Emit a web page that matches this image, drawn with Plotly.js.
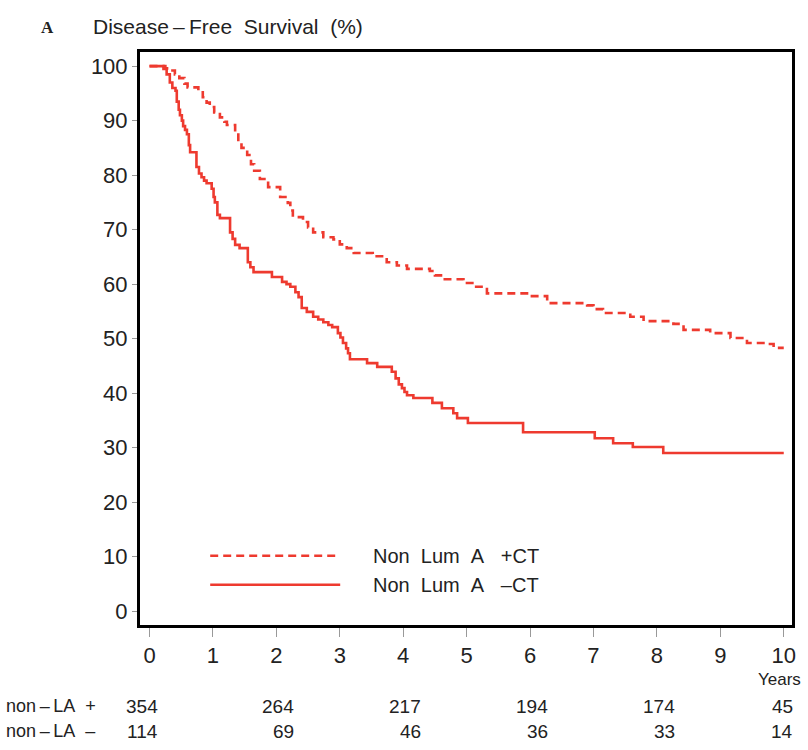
<!DOCTYPE html>
<html>
<head>
<meta charset="utf-8">
<script src="https://cdn.plot.ly/plotly-3.0.1.min.js"></script>
<style>html,body{margin:0;padding:0;background:#fff;}</style>
</head>
<body>
<div id="chart" style="width:808px;height:750px;"></div>
<script>
// Non Lum A +CT (dashed)
var plusT = [0,0.25,0.32,0.4,0.47,0.55,0.6,0.77,0.84,0.9,0.95,1.02,1.11,1.18,1.22,1.35,1.4,1.45,1.54,1.6,1.65,1.74,1.87,2.06,2.18,2.22,2.26,2.42,2.5,2.58,2.74,2.9,3.0,3.11,3.22,3.52,3.74,3.9,4.06,4.42,4.5,4.63,4.95,5.15,5.32,6.0,6.27,6.9,7.0,7.15,7.58,7.79,8.26,8.42,8.84,9.16,9.42,9.74,9.84,10.0];
var plusV = [100,99.6,99.2,98.5,97.8,96.8,96.1,95.5,94.3,93.3,92.5,91.5,90.6,89.8,89.2,87.7,86,85,83.7,82,80.8,79.3,77.8,76,74.9,73.5,72.3,71.4,70.4,69.5,68.6,68.2,67.3,66.6,65.7,65.1,64,63.4,62.8,62.4,61.6,60.9,60.2,59.5,58.3,57.8,56.5,56.1,55.4,54.7,54,53.2,52.7,51.6,51,50.1,49.2,49,48.3,48.3];
// Non Lum A -CT (solid)
var minusT = [0,0.22,0.27,0.32,0.36,0.41,0.43,0.46,0.48,0.51,0.53,0.56,0.59,0.62,0.64,0.74,0.78,0.82,0.86,0.9,0.98,1.01,1.03,1.07,1.11,1.27,1.31,1.35,1.42,1.55,1.59,1.64,1.93,2.09,2.16,2.22,2.3,2.35,2.4,2.48,2.58,2.66,2.74,2.82,2.88,2.97,3.01,3.05,3.1,3.13,3.16,3.43,3.59,3.82,3.88,3.93,3.98,4.02,4.06,4.16,4.46,4.61,4.79,4.85,5.02,5.89,7.02,7.31,7.62,8.1,10.0];
var minusV = [100,99.5,98.5,97,96,95.5,93.5,92,91,90,89,88.3,87.5,85.5,84.2,81.5,80.3,79.6,79,78.5,77.5,76,75,72.7,72.1,69.5,68.3,67.2,66.6,64,63.1,62.2,61.3,60.4,60,59.5,58.5,57.6,55.6,54.9,54,53.5,53,52.5,52.1,51,50.2,49.2,48.2,47.3,46.2,45.5,44.8,43.9,42.7,41.6,40.9,40.2,39.6,39.1,38.2,37.2,36.3,35.4,34.5,32.8,31.7,30.8,30.1,29.0,29.0];

var xTicks = [0,1,2,3,4,5,6,7,8,9,10];
var yTicks = [0,10,20,30,40,50,60,70,80,90,100];
var riskYears = [0,2,4,6,8,10];
var riskPlus = [354,264,217,194,174,45];
var riskMinus = [114,69,46,36,33,14];
var rowLabels = ["non\u2009\u2013\u2009LA\u00a0\u00a0+", "non\u2009\u2013\u2009LA\u00a0\u00a0\u2013"];
var seriesNames = ["Non\u00a0\u00a0Lum\u00a0\u00a0A\u00a0\u00a0\u00a0+CT", "Non\u00a0\u00a0Lum\u00a0\u00a0A\u00a0\u00a0\u00a0\u2013CT"];

var red = '#ee3a2f';
var txt = '#222222';
var FONT = 'Liberation Sans, Arial, sans-serif';
var legendPad = '\u00a0\u00a0\u00a0\u00a0\u00a0';

var traces = [
  {x: plusT, y: plusV, type: 'scatter', mode: 'lines', name: legendPad + seriesNames[0], legendgroup: 'a',
   line: {shape: 'hv', color: red, width: 2.6, dash: '8px,5px'}},
  {x: minusT, y: minusV, type: 'scatter', mode: 'lines', name: legendPad + seriesNames[1], legendgroup: 'b',
   line: {shape: 'hv', color: red, width: 2.6}}
];

var annotations = [];
annotations.push({text: '<b>A</b>', xref: 'paper', yref: 'paper', x: -0.155, y: 1.0, xanchor: 'left', yanchor: 'middle', yshift: 25, showarrow: false,
  font: {family: 'Liberation Serif, DejaVu Serif, serif', size: 17, color: txt}});
annotations.push({text: 'Years', xref: 'paper', yref: 'paper', x: 1, y: 0, xanchor: 'right', yanchor: 'middle', xshift: 11, yshift: -54, showarrow: false,
  font: {family: FONT, size: 17, color: txt}});
var rows = [riskPlus, riskMinus];
for (var r = 0; r < 2; r++) {
  annotations.push({text: rowLabels[r], xref: 'paper', yref: 'paper', x: -0.208, y: 0, xanchor: 'left', yanchor: 'middle', yshift: -81 - 25 * r, showarrow: false,
    font: {family: FONT, size: 18, color: txt}});
  for (var i = 0; i < riskYears.length; i++) {
    var sh = (i === 0) ? 10 : (i === riskYears.length - 1 ? 11 : 20);
    annotations.push({text: String(rows[r][i]), xref: 'x', yref: 'paper', x: riskYears[i], y: 0, xanchor: 'right', yanchor: 'middle',
      xshift: sh, yshift: -81 - 25 * r, showarrow: false, font: {family: FONT, size: 19, color: txt}});
  }
}

var layout = {
  width: 808, height: 750,
  margin: {l: 140, r: 16, t: 52, b: 125},
  paper_bgcolor: '#ffffff', plot_bgcolor: '#ffffff',
  font: {family: FONT, color: txt},
  title: {text: 'Disease\u2009\u2013\u2009Free\u00a0\u00a0Survival\u00a0\u00a0(%)', xref: 'container', yref: 'container', x: 93/808, xanchor: 'left', y: 1 - 27/750, yanchor: 'middle',
    font: {family: FONT, size: 21, color: txt}},
  xaxis: {range: [-0.15, 10.13], tickvals: xTicks, ticktext: xTicks.map(String), showgrid: false, zeroline: false,
    showline: true, mirror: true, linecolor: '#000', linewidth: 3, ticks: 'outside', ticklen: 9, tickwidth: 1, tickcolor: '#999',
    tickfont: {family: FONT, size: 22, color: txt}},
  yaxis: {range: [-2.57, 102.6], tickvals: yTicks, ticktext: yTicks.map(String), showgrid: false, zeroline: false,
    showline: true, mirror: true, linecolor: '#000', linewidth: 3, ticks: 'outside', ticklen: 5, tickwidth: 1, tickcolor: '#999',
    tickfont: {family: FONT, size: 22, color: txt}},
  showlegend: true,
  legend: {x: 0.1, y: 0.155, xanchor: 'left', yanchor: 'top', bgcolor: 'rgba(0,0,0,0)', borderwidth: 0,
    itemwidth: 130, tracegroupgap: 0, font: {family: FONT, size: 20, color: txt}},
  annotations: annotations
};

Plotly.newPlot('chart', traces, layout, {displayModeBar: false, staticPlot: true});
</script>
</body>
</html>
